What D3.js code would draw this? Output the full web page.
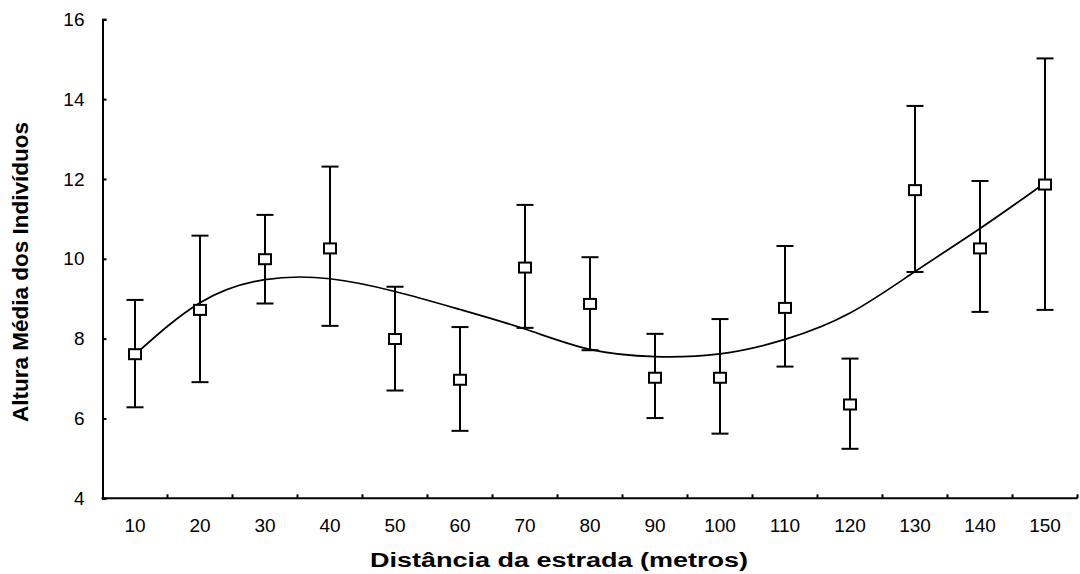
<!DOCTYPE html>
<html>
<head>
<meta charset="utf-8">
<script src="https://d3js.org/d3.v7.min.js"></script>
<style>
  body { margin: 0; background: #fff; }
  text { font-family: "Liberation Sans", Arial, sans-serif; fill: #000; }
</style>
</head>
<body>
<script>
// distances (m) and mean height with error bars
var distances = [10, 20, 30, 40, 50, 60, 70, 80, 90, 100, 110, 120, 130, 140, 150];
var means =     [7.61, 8.72, 9.99, 10.26, 7.99, 6.97, 9.78, 8.87, 7.02, 7.02, 8.77, 6.35, 11.72, 10.26, 11.86];
var upper =     [8.97, 10.58, 11.10, 12.31, 9.30, 8.29, 11.35, 10.04, 8.12, 8.49, 10.32, 7.50, 13.83, 11.95, 15.02];
var lower =     [6.28, 6.91, 8.88, 8.32, 6.70, 5.69, 8.27, 7.71, 6.01, 5.62, 7.30, 5.24, 9.67, 8.67, 8.72];
// fitted trend line, read at each distance
var trend =     [7.60, 8.90, 9.48, 9.50, 9.18, 8.73, 8.24, 7.73, 7.55, 7.62, 7.98, 8.64, 9.68, 10.76, 11.90];
var yTicks = [4, 6, 8, 10, 12, 14, 16];

var width = 1080,
    height = 574,
    margin = {top: 19.3, right: 2.5, bottom: 75.7, left: 102.5};

var svg = d3.select("body").append("svg")
    .attr("width", width)
    .attr("height", height);

var x = d3.scaleBand()
    .domain(distances)
    .range([margin.left, width - margin.right]);

var y = d3.scaleLinear()
    .domain([4, 16])
    .range([height - margin.bottom, margin.top]);

var data = distances.map(function(d, i) {
  return {dist: d, mean: means[i], hi: upper[i], lo: lower[i], fit: trend[i]};
});

// axes
var xAxis = svg.append("g")
    .attr("transform", "translate(0," + y(4) + ")")
    .call(d3.axisBottom(x).tickSize(0).tickPadding(20));
xAxis.select(".domain").remove();
xAxis.selectAll("text").attr("font-size", 19).attr("font-family", null);

// tick marks sit between the categories, pointing inward
svg.append("g").selectAll("line")
    .data(distances)
    .enter().append("line")
      .attr("x1", function(d) { return x(d) + x.bandwidth(); })
      .attr("x2", function(d) { return x(d) + x.bandwidth(); })
      .attr("y1", y(4))
      .attr("y2", y(4) - 4)
      .attr("stroke", "#000")
      .attr("stroke-width", 2);

svg.append("line")
    .attr("x1", margin.left - 1)
    .attr("x2", width - margin.right)
    .attr("y1", y(4))
    .attr("y2", y(4))
    .attr("stroke", "#000")
    .attr("stroke-width", 2);

var yAxis = svg.append("g")
    .attr("transform", "translate(" + margin.left + ",0)")
    .call(d3.axisRight(y).tickValues(yTicks).tickSize(4).tickFormat(d3.format("d")));
yAxis.select(".domain").attr("stroke-width", 2);
yAxis.selectAll(".tick line").attr("stroke-width", 2);
yAxis.selectAll("text")
    .attr("x", -18)
    .attr("text-anchor", "end")
    .attr("font-size", 19)
    .attr("font-family", null);

// trend curve
var line = d3.line()
    .x(function(d) { return x(d.dist) + x.bandwidth() / 2; })
    .y(function(d) { return y(d.fit); })
    .curve(d3.curveNatural);

svg.append("path")
    .datum(data)
    .attr("d", line)
    .attr("fill", "none")
    .attr("stroke", "#000")
    .attr("stroke-width", 1.7);

// error bars
var bars = svg.append("g").selectAll("g")
    .data(data)
    .enter().append("g")
      .attr("transform", function(d) { return "translate(" + (x(d.dist) + x.bandwidth() / 2) + ",0)"; });

bars.append("line")
    .attr("y1", function(d) { return y(d.lo); })
    .attr("y2", function(d) { return y(d.hi); })
    .attr("stroke", "#000")
    .attr("stroke-width", 2);

bars.append("line")
    .attr("x1", -8.5).attr("x2", 8.5)
    .attr("y1", function(d) { return y(d.hi); })
    .attr("y2", function(d) { return y(d.hi); })
    .attr("stroke", "#000")
    .attr("stroke-width", 2);

bars.append("line")
    .attr("x1", -8.5).attr("x2", 8.5)
    .attr("y1", function(d) { return y(d.lo); })
    .attr("y2", function(d) { return y(d.lo); })
    .attr("stroke", "#000")
    .attr("stroke-width", 2);

bars.append("rect")
    .attr("x", -6)
    .attr("y", function(d) { return y(d.mean) - 5; })
    .attr("width", 12)
    .attr("height", 10)
    .attr("fill", "#fff")
    .attr("stroke", "#000")
    .attr("stroke-width", 2);

// axis titles
svg.append("text")
    .attr("x", 559)
    .attr("y", 567)
    .attr("text-anchor", "middle")
    .attr("font-size", 20)
    .attr("font-weight", "bold")
    .attr("textLength", 378)
    .attr("lengthAdjust", "spacingAndGlyphs")
    .text("Distância da estrada (metros)");

svg.append("text")
    .attr("transform", "translate(28,272) rotate(-90)")
    .attr("text-anchor", "middle")
    .attr("font-size", 22.5)
    .attr("font-weight", "bold")
    .text("Altura Média dos Indivíduos");
</script>
</body>
</html>
